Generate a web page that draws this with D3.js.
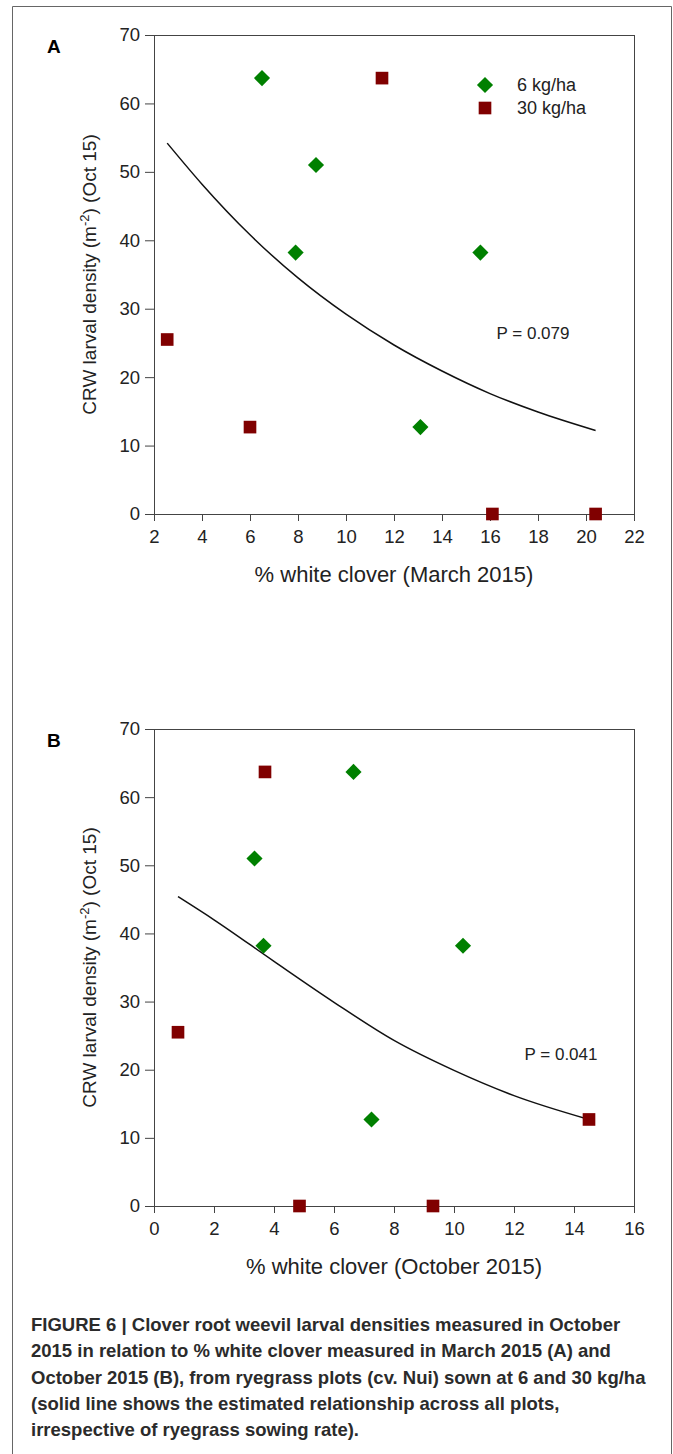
<!DOCTYPE html>
<html>
<head>
<meta charset="utf-8">
<script src="https://cdn.jsdelivr.net/npm/d3@7"></script>
<style>
  body { margin: 0; background: #fff; }
  svg { display: block; font-family: "Liberation Sans", Arial, sans-serif; }
  .tick text { font-size: 18.5px; fill: #222; }
  .tick line { stroke: #444; }
</style>
</head>
<body>
<script>
// ---- data ----
const rateLabels = ['6 kg/ha', '30 kg/ha'];
const yTicks = [0, 10, 20, 30, 40, 50, 60, 70];

// Panel A: % white clover (March 2015)
const aTicksX = [2, 4, 6, 8, 10, 12, 14, 16, 18, 20, 22];
const aLowX = [6.5, 8.75, 7.9, 15.6, 13.1];
const aLowY = [63.7, 51.0, 38.2, 38.2, 12.7];
const aHighX = [11.5, 2.55, 6.0, 16.1, 20.4];
const aHighY = [63.7, 25.5, 12.7, 0, 0];
const aFitX = [2.55, 4, 6, 8, 10, 12, 14, 16, 18, 20.4];
const aFitY = [54.2, 48.2, 40.8, 34.5, 29.2, 24.7, 20.9, 17.6, 14.9, 12.2];

// Panel B: % white clover (October 2015)
const bTicksX = [0, 2, 4, 6, 8, 10, 12, 14, 16];
const bLowX = [6.65, 3.35, 3.65, 10.3, 7.25];
const bLowY = [63.7, 51.0, 38.2, 38.2, 12.7];
const bHighX = [3.7, 0.8, 14.5, 4.85, 9.3];
const bHighY = [63.7, 25.5, 12.7, 0, 0];
const bFitX = [0.8, 2, 4, 6, 8, 10, 12, 14.5];
const bFitY = [45.4, 42.0, 35.9, 29.9, 24.3, 19.9, 16.2, 12.7];

const captionLines = [
  'FIGURE 6 | Clover root weevil larval densities measured in October',
  '2015 in relation to % white clover measured in March 2015 (A) and',
  'October 2015 (B), from ryegrass plots (cv. Nui) sown at 6 and 30 kg/ha',
  '(solid line shows the estimated relationship across all plots,',
  'irrespective of ryegrass sowing rate).'
];

const green = '#008000';
const maroon = '#800000';

const svg = d3.select('body').append('svg')
  .attr('width', 673).attr('height', 1454);

// outer frame (bottom edge falls outside the picture)
svg.append('path')
  .attr('d', 'M12.5,1460 V6.5 H671.5 V1460')
  .attr('fill', 'none').attr('stroke', '#666').attr('stroke-width', 1);

const diamond = d3.symbol(d3.symbolSquare, 130);
const square = d3.symbol(d3.symbolSquare, 160);

function drawPanel(p) {
  const innerW = 480, innerH = p.h;
  const g = svg.append('g').attr('transform', `translate(154,${p.top})`);

  const x = d3.scaleLinear().domain(p.xDomain).range([0, innerW]);
  const y = d3.scaleLinear().domain([0, 70]).range([innerH, 0]);

  g.append('g')
    .attr('transform', `translate(0,${innerH})`)
    .call(d3.axisBottom(x).tickValues(p.xTicks).tickSize(7).tickPadding(9).tickFormat(d3.format('d')))
    .call(a => a.select('.domain').remove());

  g.append('g')
    .call(d3.axisLeft(y).tickValues(yTicks).tickSize(9).tickPadding(5).tickFormat(d3.format('d')))
    .call(a => a.select('.domain').remove());

  g.append('rect')
    .attr('x', 0.5).attr('y', 0.5)
    .attr('width', innerW).attr('height', innerH)
    .attr('fill', 'none').attr('stroke', '#444');

  // fitted relationship
  const line = d3.line()
    .x(d => x(d[0])).y(d => y(d[1]))
    .curve(d3.curveMonotoneX);
  g.append('path')
    .attr('d', line(d3.zip(p.fitX, p.fitY)))
    .attr('fill', 'none').attr('stroke', '#111').attr('stroke-width', 1.5);

  g.selectAll('.hi')
    .data(d3.zip(p.highX, p.highY))
    .join('path')
    .attr('transform', d => `translate(${x(d[0])},${y(d[1])})`)
    .attr('d', square).attr('fill', maroon);

  g.selectAll('.lo')
    .data(d3.zip(p.lowX, p.lowY))
    .join('path')
    .attr('transform', d => `translate(${x(d[0])},${y(d[1])}) rotate(45)`)
    .attr('d', diamond).attr('fill', green);

  g.append('text')
    .attr('x', p.pPos[0] - 154).attr('y', p.pPos[1] - p.top)
    .attr('dy', '0.35em').attr('text-anchor', 'middle')
    .style('font-size', '17px').style('fill', '#222')
    .text(p.pText);

  // panel letter
  svg.append('text')
    .attr('x', 47).attr('y', p.top + 18)
    .style('font-size', '19px').style('font-weight', 'bold')
    .text(p.letter);

  // axis titles
  g.append('text')
    .attr('x', innerW / 2).attr('y', innerH + 68)
    .attr('text-anchor', 'middle')
    .style('font-size', '22px').style('fill', '#222')
    .text(p.xTitle);

  const yt = g.append('text')
    .attr('transform', `translate(-58,${innerH / 2}) rotate(-90)`)
    .attr('text-anchor', 'middle')
    .style('font-size', '19px').style('fill', '#222');
  yt.append('tspan').text('CRW larval density (m');
  yt.append('tspan').attr('dy', -7).style('font-size', '13px').text('-2');
  yt.append('tspan').attr('dy', 7).text(') (Oct 15)');

  if (p.legend) {
    const lg = g.append('g').attr('transform', 'translate(331,50)');
    lg.append('path').attr('transform', 'rotate(45)').attr('d', diamond).attr('fill', green);
    lg.append('path').attr('transform', 'translate(0,23)').attr('d', square).attr('fill', maroon);
    lg.selectAll('text')
      .data(rateLabels)
      .join('text')
      .attr('x', 32).attr('y', (d, i) => i * 23)
      .attr('dy', '0.35em')
      .style('font-size', '18px').style('fill', '#222')
      .text(d => d);
  }
}

drawPanel({
  top: 35, h: 479, letter: 'A',
  xDomain: [2, 22], xTicks: aTicksX,
  lowX: aLowX, lowY: aLowY, highX: aHighX, highY: aHighY,
  fitX: aFitX, fitY: aFitY,
  pText: 'P = 0.079', pPos: [533, 333],
  xTitle: '% white clover (March 2015)', legend: true
});

drawPanel({
  top: 729, h: 477, letter: 'B',
  xDomain: [0, 16], xTicks: bTicksX,
  lowX: bLowX, lowY: bLowY, highX: bHighX, highY: bHighY,
  fitX: bFitX, fitY: bFitY,
  pText: 'P = 0.041', pPos: [561, 1054],
  xTitle: '% white clover (October 2015)', legend: false
});

// caption
svg.append('g')
  .selectAll('text')
  .data(captionLines)
  .join('text')
  .attr('x', 31).attr('y', (d, i) => 1331 + i * 26.3)
  .style('font-family', '"Liberation Sans Narrow", "Arial Narrow", sans-serif')
  .style('font-size', '18.5px').style('font-weight', 'bold').style('fill', '#2b2b2b')
  .text(d => d);
</script>
</body>
</html>
